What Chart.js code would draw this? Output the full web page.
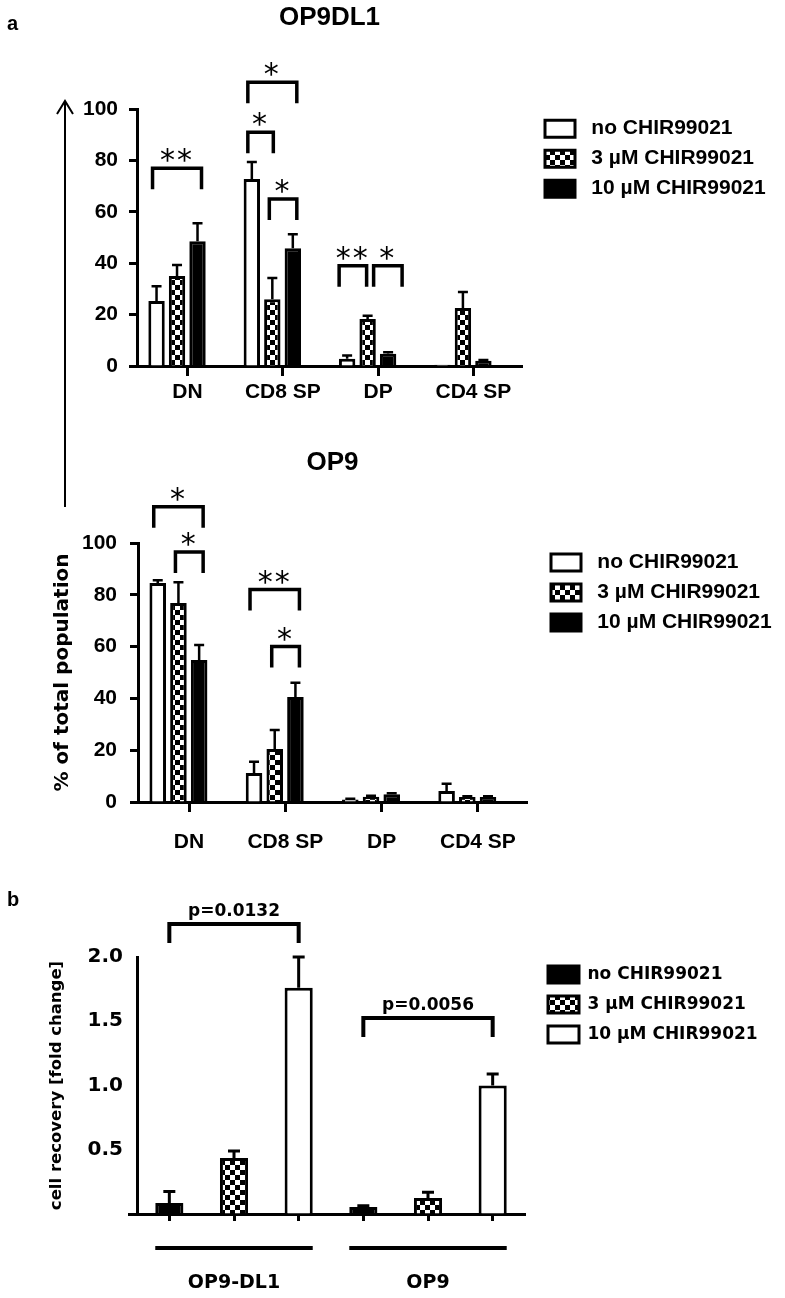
<!DOCTYPE html>
<html>
<head>
<meta charset="utf-8">
<script src="https://cdn.jsdelivr.net/npm/chart.js@4.4.1/dist/chart.umd.min.js"></script>
<style>
  body { margin: 0; background: #fff; }
  #fig { position: relative; width: 785px; height: 1298px; }
  #fig canvas, #fig svg, .tag { position: absolute; left: 0; }
  .tag { font: bold 20px 'Liberation Sans', Arial, sans-serif; line-height: 20px; }
</style>
</head>
<body>
<div id="fig">
  <canvas id="chartDl1" width="785" height="415" style="top:0"></canvas>
  <canvas id="chartOp9" width="785" height="445" style="top:415px"></canvas>
  <canvas id="chartRecovery" width="785" height="438" style="top:860px"></canvas>
  <svg width="785" height="520" style="top:0">
    <line x1="65" y1="101" x2="65" y2="507" stroke="#000" stroke-width="2"/>
    <polyline points="57,114 65,101 73,114" fill="none" stroke="#000" stroke-width="2"/>
  </svg>
  <div class="tag" style="left:7px;top:13px">a</div>
  <div class="tag" style="left:7px;top:889px">b</div>
</div>
<script>
let subsets = ['DN', 'CD8 SP', 'DP', 'CD4 SP'];
let treatments = ['no CHIR99021', '3 µM CHIR99021', '10 µM CHIR99021'];

// panel a, OP9DL1 co-culture (% of total population)
let dl1_no = [25.3, 72.8, 2.8, 0.5];
let dl1_no_err = [5.8, 6.6, 1.3, 0];
let dl1_3uM = [35, 26, 18.3, 22.6];
let dl1_3uM_err = [4.3, 8.3, 1.3, 6.2];
let dl1_10uM = [48.6, 45.9, 4.8, 2];
let dl1_10uM_err = [7, 5.4, 0.6, 0.3];

// panel a, OP9 co-culture
let op9_no = [84.6, 11.2, 1, 4.2];
let op9_no_err = [1, 4.3, 0.3, 2.8];
let op9_3uM = [76.8, 20.5, 2, 1.9];
let op9_3uM_err = [8, 7.3, 0.4, 0.3];
let op9_10uM = [54.8, 40.5, 3, 1.9];
let op9_10uM_err = [5.8, 5.5, 0.4, 0.3];

// significance brackets: [subset, from treatment, to treatment, level, label]
let dl1_sig = [
    [0, 0, 2, 77, '**'],
    [1, 0, 2, 110.5, '*'],
    [1, 0, 1, 91, '*'],
    [1, 1, 2, 65, '*'],
    [2, 0, 1, 39, '**'],
    [2, 1, 2, 39, '*']
];
let op9_sig = [
    [0, 0, 2, 114, '*'],
    [0, 1, 2, 96.5, '*'],
    [1, 0, 2, 82, '**'],
    [1, 1, 2, 60, '*']
];

// panel b, cell recovery [fold change]
let cultures = ['OP9-DL1', 'OP9'];
let recovery_dl1 = [0.085, 0.435, 1.76];
let recovery_dl1_err = [0.09, 0.055, 0.24];
let recovery_op9 = [0.055, 0.125, 1.0];
let recovery_op9_err = [0.01, 0.045, 0.09];
// [culture, from treatment, to treatment, level, label]
let recovery_sig = [
    [0, 0, 2, 2.257, 'p=0.0132'],
    [1, 0, 2, 1.525, 'p=0.0056']
];

const ARIAL = "'Liberation Sans', Arial, sans-serif";
const DEJAVU = "'DejaVu Sans', sans-serif";
Chart.defaults.font.family = ARIAL;
Chart.defaults.color = '#000';

function checker(cell) {
    const c = document.createElement('canvas');
    c.width = c.height = cell * 2;
    const g = c.getContext('2d');
    g.fillStyle = '#fff';
    g.fillRect(0, 0, cell * 2, cell * 2);
    g.fillStyle = '#000';
    g.fillRect(0, 0, cell, cell);
    g.fillRect(cell, cell, cell, cell);
    return g.createPattern(c, 'repeat');
}
const checkerFill = checker(5);

// vertical error bars (upper half only)
function errorBars(errs, st) {
    return {
        id: 'errorBars',
        afterDatasetsDraw(chart) {
            const ctx = chart.ctx, ys = chart.scales.y;
            ctx.save();
            ctx.strokeStyle = '#000';
            ctx.lineWidth = st.lineWidth;
            errs.forEach((list, i) => {
                const meta = chart.getDatasetMeta(i);
                list.forEach((e, j) => {
                    const bar = meta.data[j];
                    const p = meta.controller.getParsed(j);
                    if (!e || !bar || !p || p.y == null) return;
                    const top = ys.getPixelForValue(p.y + e);
                    ctx.beginPath();
                    ctx.moveTo(bar.x, bar.y);
                    ctx.lineTo(bar.x, top);
                    ctx.moveTo(bar.x - st.cap, top);
                    ctx.lineTo(bar.x + st.cap, top);
                    ctx.stroke();
                });
            });
            ctx.restore();
        }
    };
}

// significance brackets
function brackets(items, st) {
    return {
        id: 'brackets',
        afterDatasetsDraw(chart) {
            const ctx = chart.ctx, ys = chart.scales.y;
            ctx.save();
            ctx.lineWidth = st.lineWidth;
            ctx.strokeStyle = '#000';
            ctx.fillStyle = '#000';
            ctx.font = st.font;
            ctx.textAlign = 'center';
            ctx.textBaseline = 'alphabetic';
            ctx.letterSpacing = st.spacing;
            items.forEach(it => {
                const shared = items.some(o => o !== it && o.top === it.top &&
                    ((o.a[0] === it.b[0] && o.a[1] === it.b[1]) || (o.b[0] === it.a[0] && o.b[1] === it.a[1])));
                const pa = chart.getDatasetMeta(it.a[0]).data[it.a[1]];
                const pb = chart.getDatasetMeta(it.b[0]).data[it.b[1]];
                const x1 = pa.x + (shared ? st.sharedLeft : st.left)[it.a[0]];
                const x2 = pb.x + (shared ? st.sharedRight : st.right)[it.b[0]];
                const yt = ys.getPixelForValue(it.top);
                ctx.beginPath();
                ctx.moveTo(x1, yt + st.drop);
                ctx.lineTo(x1, yt);
                ctx.lineTo(x2, yt);
                ctx.lineTo(x2, yt + st.drop);
                ctx.stroke();
                ctx.fillText(it.label, (x1 + x2) / 2, yt + st.textDy);
            });
            ctx.restore();
        }
    };
}

// fixed legend width and a nudge of its items
function legendPlacer(width, dx, dy) {
    return {
        id: 'legendPlacer',
        beforeLayout(chart) {
            const lg = chart.legend;
            if (lg && !lg._placed) {
                const fit = lg.fit.bind(lg);
                lg.fit = function () { fit(); this.width = width; };
                lg._placed = true;
            }
        },
        afterLayout(chart) {
            const lg = chart.legend;
            lg.left += dx; lg.right += dx;
            lg.top += dy; lg.bottom += dy;
        }
    };
}

function groupLabels(names, size, st) {
    return {
        id: 'groupLabels',
        afterDraw(chart) {
            const ctx = chart.ctx, xs = chart.scales.x;
            const half = chart.getDatasetMeta(0).data[0].width / 2;
            const bottom = chart.chartArea.bottom;
            ctx.save();
            ctx.strokeStyle = '#000';
            ctx.fillStyle = '#000';
            ctx.lineWidth = st.lineWidth;
            ctx.font = st.font;
            ctx.textAlign = 'center';
            ctx.textBaseline = 'middle';
            names.forEach((n, g) => {
                const x1 = xs.getPixelForValue(g * size) - half;
                const x2 = xs.getPixelForValue(g * size + size - 1) + half;
                ctx.beginPath();
                ctx.moveTo(x1, bottom + st.lineDy);
                ctx.lineTo(x2, bottom + st.lineDy);
                ctx.stroke();
                ctx.fillText(n, (x1 + x2) / 2, bottom + st.textDy);
            });
            ctx.restore();
        }
    };
}

const boldArial = size => ({ family: ARIAL, size: size, weight: 'bold' });
const boldDejavu = size => ({ family: DEJAVU, size: size, weight: 'bold' });
const fills = ['#fff', checkerFill, '#000'];

function subsetDatasets(series) {
    return series.map((values, k) => ({
        label: treatments[k],
        data: values.map((v, i) => ({ x: i, y: v })),
        backgroundColor: fills[k],
        borderColor: '#000',
        borderWidth: 3,
        barPercentage: 0.8,
        categoryPercentage: 0.645
    }));
}

function subsetAxis(axisHeight, labelPad) {
    return {
        type: 'linear', bounds: 'data', min: -0.42, max: 3.62, offset: false,
        afterBuildTicks: s => { s.ticks = subsets.map((_, i) => ({ value: i + 0.11 })); },
        afterFit: s => { s.height = axisHeight; },
        ticks: { callback: (v, i) => subsets[i], autoSkip: false, maxRotation: 0, padding: labelPad, color: '#000', font: boldArial(21) },
        grid: { offset: false, drawOnChartArea: false, tickLength: 10, tickWidth: 3, tickColor: '#000' },
        border: { color: '#000', width: 3 }
    };
}

function percentAxis(width, tickPad, title) {
    return {
        min: 0, max: 100,
        afterFit: s => { s.width = width; },
        ticks: { stepSize: 20, padding: tickPad, color: '#000', font: boldArial(21) },
        grid: { drawOnChartArea: false, tickLength: 8, tickWidth: 3, tickColor: '#000' },
        border: { color: '#000', width: 3 },
        title: title
    };
}

function subsetLegend() {
    return {
        position: 'right', align: 'start', fullSize: false,
        labels: {
            boxWidth: 30, boxHeight: 17, padding: 9, color: '#000', font: boldArial(21),
            generateLabels: chart => Chart.defaults.plugins.legend.labels.generateLabels(chart)
                .map(l => Object.assign(l, { text: ' ' + l.text }))
        }
    };
}

const subsetBracketStyle = {
    lineWidth: 3.5, drop: 21, font: "30px " + DEJAVU, spacing: '2px', textDy: 2,
    left: [-4, -3, 4], right: [-4, 1, 4], sharedLeft: [-8, 6, 0], sharedRight: [0, -1, 14]
};
const toSubsetBrackets = list => list.map(s => ({ a: [s[1], s[0]], b: [s[2], s[0]], top: s[3], label: s[4] }));

// OP9DL1
new Chart(document.getElementById('chartDl1'), {
    type: 'bar',
    data: { datasets: subsetDatasets([dl1_no, dl1_3uM, dl1_10uM]) },
    options: {
        responsive: false, animation: false, devicePixelRatio: 1, events: [],
        layout: { padding: 0 },
        scales: { x: subsetAxis(49, 4), y: percentAxis(137, 11) },
        plugins: {
            title: { display: true, text: 'OP9DL1', fullSize: false, color: '#000', font: boldArial(26), padding: { top: 2, bottom: 76 } },
            legend: subsetLegend(),
            tooltip: { enabled: false }
        }
    },
    plugins: [
        errorBars([dl1_no_err, dl1_3uM_err, dl1_10uM_err], { lineWidth: 2.5, cap: 5 }),
        brackets(toSubsetBrackets(dl1_sig), subsetBracketStyle),
        legendPlacer(263, 14, 0)
    ]
});

// OP9
new Chart(document.getElementById('chartOp9'), {
    type: 'bar',
    data: { datasets: subsetDatasets([op9_no, op9_3uM, op9_10uM]) },
    options: {
        responsive: false, animation: false, devicePixelRatio: 1, events: [],
        layout: { padding: 0 },
        scales: {
            x: subsetAxis(58, 18),
            y: percentAxis(138, 13, {
                display: true, text: '% of total population', color: '#000',
                font: boldDejavu(20), padding: { top: 51, bottom: 0 }
            })
        },
        plugins: {
            title: { display: true, text: 'OP9', fullSize: false, color: '#000', font: boldArial(26), padding: { top: 32, bottom: 64.8 } },
            legend: subsetLegend(),
            tooltip: { enabled: false }
        }
    },
    plugins: [
        errorBars([op9_no_err, op9_3uM_err, op9_10uM_err], { lineWidth: 2.5, cap: 5 }),
        brackets(toSubsetBrackets(op9_sig), subsetBracketStyle),
        legendPlacer(258, 15, 0)
    ]
});

// cell recovery
let recoveryCats = cultures.flatMap(c => treatments.map(t => c + ' ' + t));
let recoveryFills = ['#000', checkerFill, '#fff'];
let recoverySets = treatments.map((t, k) => ({
    label: t,
    data: recoveryCats.map((_, i) => i % 3 !== k ? null : (i < 3 ? recovery_dl1[k] : recovery_op9[k])),
    backgroundColor: recoveryFills[k],
    borderColor: '#000',
    borderWidth: 3,
    grouped: false,
    barPercentage: 0.435,
    categoryPercentage: 1
}));
let recoveryErrs = treatments.map((t, k) =>
    recoveryCats.map((_, i) => i % 3 !== k ? null : (i < 3 ? recovery_dl1_err[k] : recovery_op9_err[k])));

new Chart(document.getElementById('chartRecovery'), {
    type: 'bar',
    data: { labels: recoveryCats, datasets: recoverySets },
    options: {
        responsive: false, animation: false, devicePixelRatio: 1, events: [],
        layout: { padding: { top: 97, right: 0, bottom: 0, left: 0 } },
        scales: {
            x: {
                afterFit: s => { s.height = 84; },
                ticks: { display: false },
                grid: { offset: false, drawOnChartArea: false, tickLength: 7, tickWidth: 3, tickColor: '#000' },
                border: { color: '#000', width: 3 }
            },
            y: {
                min: 0, max: 2,
                afterFit: s => { s.width = 137; },
                ticks: { stepSize: 0.5, padding: 5, color: '#000', font: boldDejavu(20), callback: v => v === 0 ? '' : v.toFixed(1) },
                grid: {
                    drawOnChartArea: false, tickLength: 9, tickWidth: 3,
                    tickColor: c => (c.tick && c.tick.value === 0) ? '#000' : 'rgba(0,0,0,0)'
                },
                border: { color: '#000', width: 3 },
                title: { display: true, text: 'cell recovery [fold change]', color: '#000', font: boldDejavu(16.5), padding: { top: 47, bottom: 0 } }
            }
        },
        plugins: {
            legend: {
                position: 'right', align: 'start', fullSize: false,
                labels: { boxWidth: 31, boxHeight: 17, padding: 13, color: '#000', font: boldDejavu(17) }
            },
            tooltip: { enabled: false }
        }
    },
    plugins: [
        errorBars(recoveryErrs, { lineWidth: 3, cap: 6 }),
        brackets(recovery_sig.map(s => ({ a: [s[1], s[0] * 3 + s[1]], b: [s[2], s[0] * 3 + s[2]], top: s[3], label: s[4] })), {
            lineWidth: 4, drop: 19, font: 'bold 17px ' + DEJAVU, spacing: '0px', textDy: -8,
            left: [0, 0, 0], right: [0, 0, 0], sharedLeft: [0, 0, 0], sharedRight: [0, 0, 0]
        }),
        groupLabels(cultures, 3, { lineWidth: 4, lineDy: 34, textDy: 69, font: 'bold 19px ' + DEJAVU }),
        legendPlacer(260, 10, -4)
    ]
});
</script>
</body>
</html>
